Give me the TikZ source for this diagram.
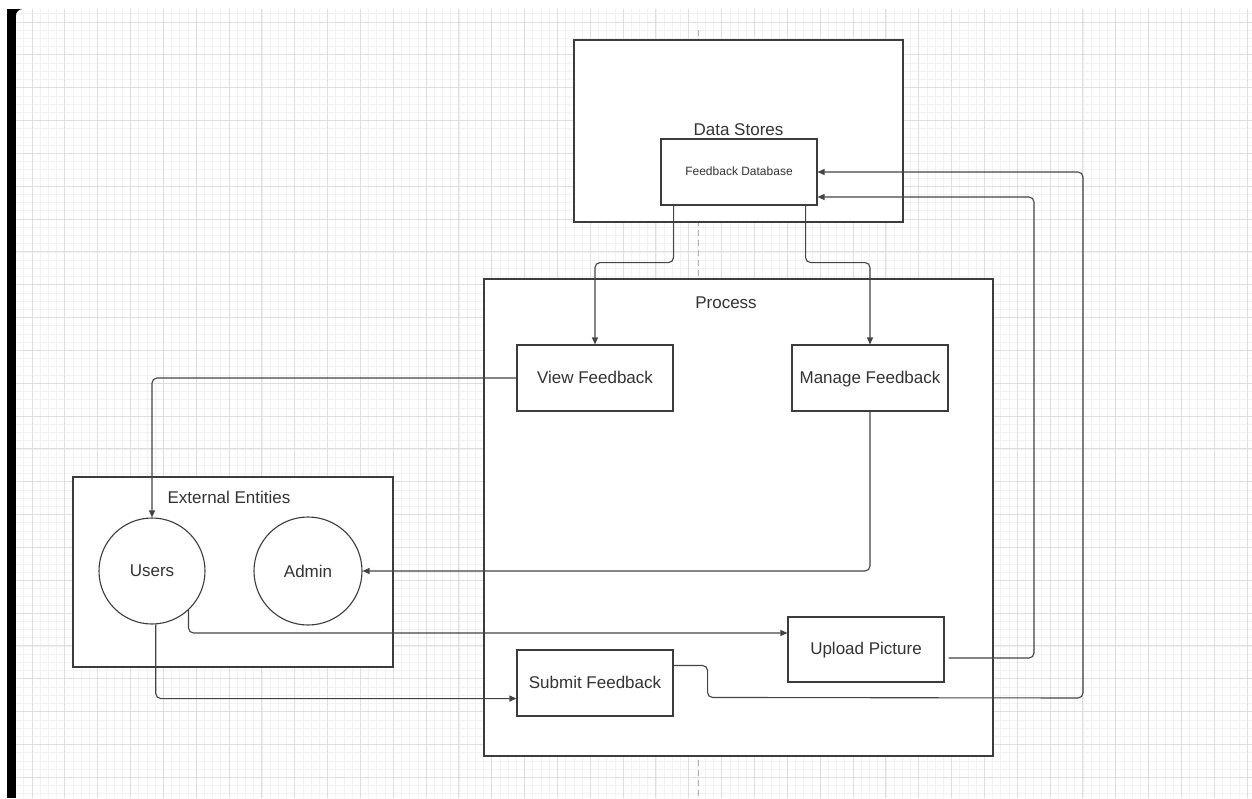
\documentclass[tikz,border=0pt]{standalone}
\usepackage{fontspec}
\setmainfont{Liberation Sans}
\usetikzlibrary{arrows.meta,calc}
\definecolor{ink}{HTML}{333333}
\definecolor{edge}{HTML}{3C3C3C}
\definecolor{lineclr}{HTML}{444444}
\definecolor{gminor}{HTML}{F1F1F1}
\definecolor{gmajor}{HTML}{DEDEDE}
\definecolor{pagebrk}{HTML}{B0B0B0}
\tikzset{
  box/.style={draw=edge, line width=1.1pt, fill=white, rectangle, inner sep=0pt, text=ink,
              font=\fontsize{17}{20}\selectfont, text height=14pt, text depth=3.6pt},
  procbox/.style={box, minimum width=156pt, minimum height=66pt},
  entity/.style={draw=edge, line width=1.1pt, fill=white, circle, inner sep=0pt, text=ink,
              font=\fontsize{17}{20}\selectfont},
  title/.style={text=ink, inner sep=0pt, font=\fontsize{17}{20}\selectfont},
  flow/.style={draw=lineclr, line width=1.1pt, rounded corners=5pt,
               -{Triangle[length=7pt,width=6pt]}},
  gridminor/.style={draw=gminor, line width=0.7pt},
  gridmajor/.style={draw=gmajor, line width=1pt},
}
\begin{document}
\begin{tikzpicture}[x=1pt,y=-1pt]
\useasboundingbox (0,0) rectangle (1252,798);
% page frame
\fill[white] (0,0) rectangle (1252,798);
\fill[black] (7,9) rectangle (30,798);
\fill[white, rounded corners=7pt] (16,9) rectangle (1270,815);
\begin{scope}
  \clip[rounded corners=7pt] (16,9) rectangle (1270,815);
  \foreach \i in {-4,...,150} { \draw[gridminor] ({32+\i*8.21},9) -- ({32+\i*8.21},798); }
  \foreach \i in {-3,...,96} { \draw[gridminor] (15,{22+\i*8.21}) -- (1252,{22+\i*8.21}); }
  \foreach \i in {-1,...,38} { \draw[gridmajor] ({32+\i*32.84},9) -- ({32+\i*32.84},798); }
  \foreach \i in {-1,...,24} { \draw[gridmajor] (15,{22+\i*32.84}) -- (1252,{22+\i*32.84}); }
  \draw[pagebrk, line width=1pt, dash pattern=on 6pt off 4pt] (698,30) -- (698,798);
\end{scope}

% containers
\node[box, minimum width=329pt, minimum height=182pt, text height=12.2pt] (ds) at (738.5,131) {Data Stores};
\node[box, minimum width=509pt, minimum height=477pt] (proc) at (738.5,517.5) {};
\node[title] (ptitle) at (726,303) {Process};
\node[box, minimum width=320pt, minimum height=190pt] (ee) at (233,572) {};
\node[title] (eetitle) at (229,497) {External Entities};

% nodes
\node[procbox, font=\fontsize{12}{14}\selectfont, text height=9.5pt, text depth=2.5pt] (fdb) at (739,172) {Feedback Database};
\node[procbox] (vf) at (595,378) {View Feedback};
\node[procbox] (mf) at (870,378) {Manage Feedback};
\node[procbox, minimum height=65pt] (up) at (866,649.5) {Upload Picture};
\node[procbox] (sf) at (595,683) {Submit Feedback};
\node[entity, minimum size=106pt] (users) at (152,571) {Users};
\node[entity, minimum size=108pt] (admin) at (308,571) {Admin};

% connectors
\draw[flow] (vf.north east |- fdb.south) -- ++(0,57) -| (vf.north);
\draw[flow] ($(fdb.south east)+(-12,0)$) -- ++(0,57) -| (mf.north);
\draw[flow] (vf.west) -| (users.north);
\draw[flow] (mf.south) |- (admin.east);
\draw[flow] (users.-47) |- ($(up.west)+(0,-16.5)$);
\draw[flow] (users.-86) |- ($(sf.south west)+(0,-18)$);
\draw[flow] ($(sf.north east)+(0,16)$) -- ++(34,0) -- ++(0,32) -- (1083,698) -- (1083,172) -- (fdb.east);
\draw[flow] ($(up.east)+(4,8.5)$) -- (1034,658) -- (1034,197) -- ($(fdb.east)+(0,25)$);
\end{tikzpicture}
\end{document}
